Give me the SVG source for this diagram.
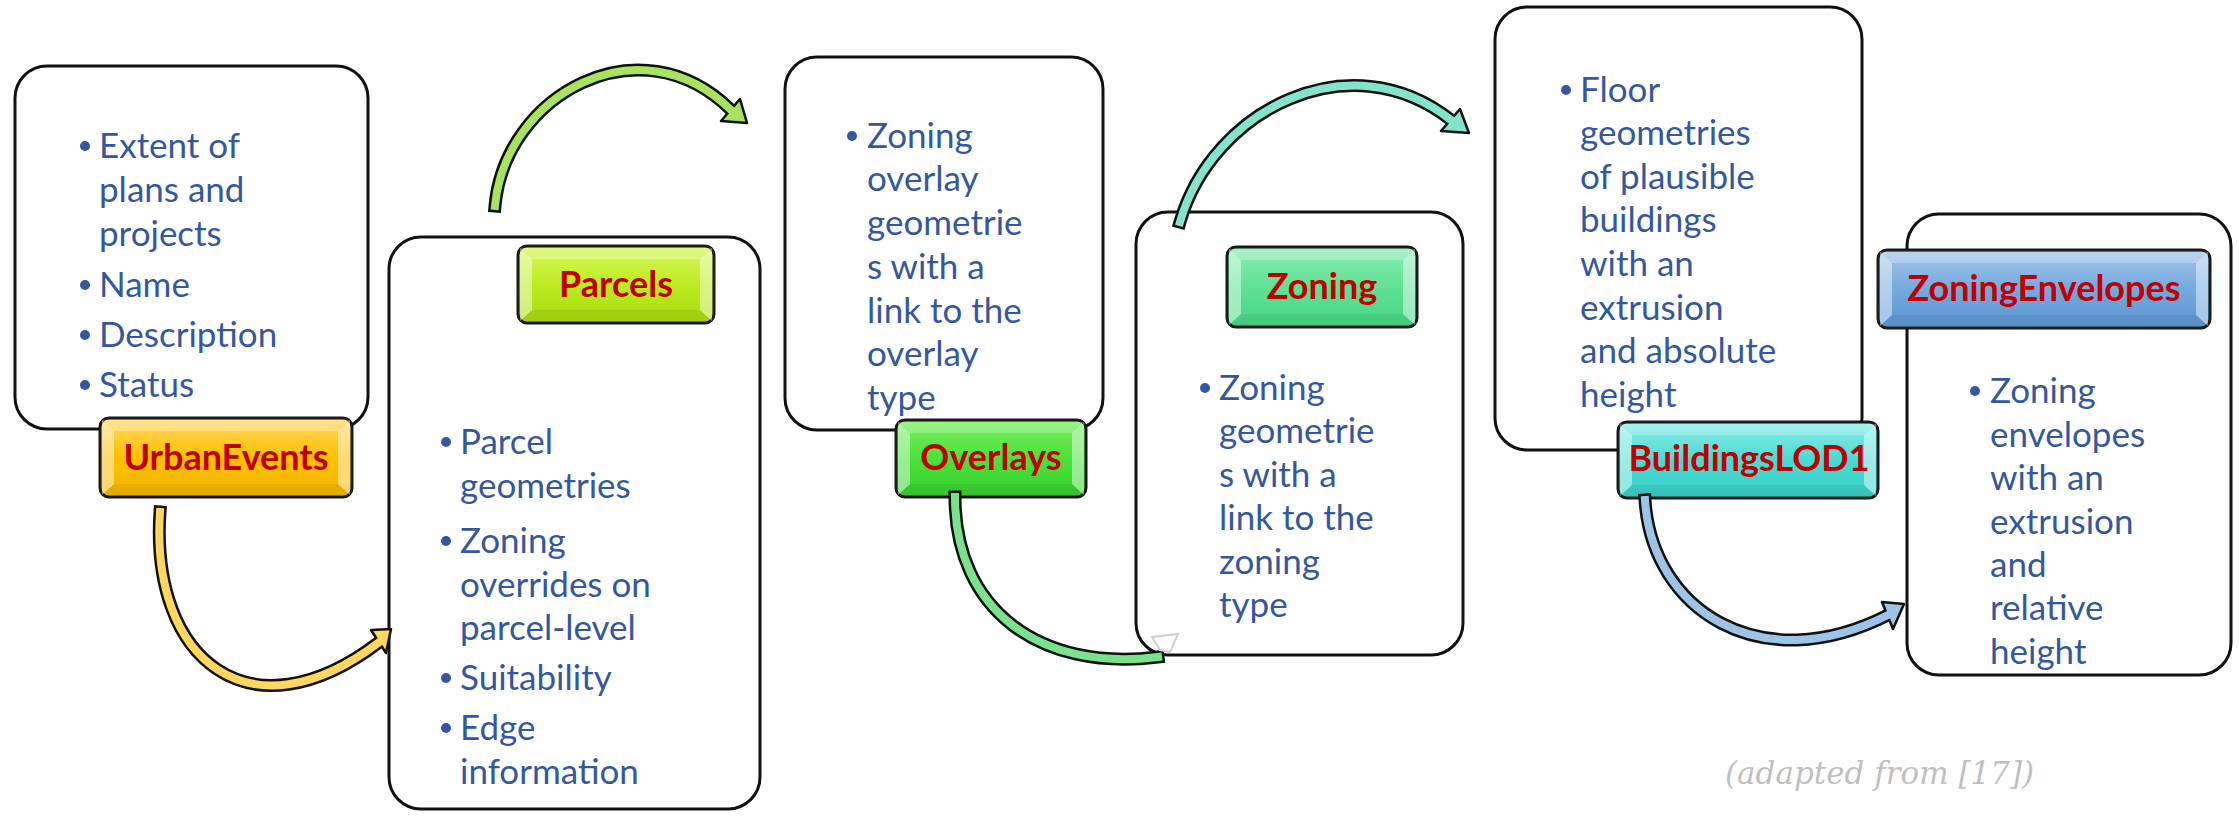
<svg xmlns="http://www.w3.org/2000/svg" width="2239" height="816" viewBox="0 0 2239 816">
<style>
.box{fill:#fff;stroke:#111;stroke-width:3}
.txt{font-family:Lato,"Liberation Sans",sans-serif;font-size:35px;fill:#34589E}
.bul{fill:#34589E}
.lab{stroke:#1a1a1a;stroke-width:3}
.lbl{font-family:Lato,"Liberation Sans",sans-serif;font-weight:700;font-size:36px;fill:#C00000;text-anchor:middle}
.hl{fill:#fff;opacity:.45}
.ht{fill:#fff;opacity:.25}
.hb{fill:#000;opacity:.06}
.sh{fill:none;stroke:#111;stroke-width:13;stroke-linecap:square}
.in{fill:none;stroke-width:8;stroke-linecap:square}
.hd{stroke:#111;stroke-width:2.5;stroke-linejoin:round}
.cap{font-family:"DejaVu Serif",serif;font-style:italic;font-size:31px;fill:#BFBFBF}
</style>
<defs>
<linearGradient id="gGold" x1="0" y1="0" x2="0" y2="1"><stop offset="0" stop-color="#FFD966"/><stop offset=".5" stop-color="#FFC000"/><stop offset="1" stop-color="#F2B600"/></linearGradient>
<linearGradient id="gLime" x1="0" y1="0" x2="0" y2="1"><stop offset="0" stop-color="#D8F760"/><stop offset=".5" stop-color="#BDEB22"/><stop offset="1" stop-color="#A9DA10"/></linearGradient>
<linearGradient id="gGreen" x1="0" y1="0" x2="0" y2="1"><stop offset="0" stop-color="#78F060"/><stop offset=".5" stop-color="#4CE03A"/><stop offset="1" stop-color="#38D030"/></linearGradient>
<linearGradient id="gMint" x1="0" y1="0" x2="0" y2="1"><stop offset="0" stop-color="#8EEDB4"/><stop offset=".5" stop-color="#5FE196"/><stop offset="1" stop-color="#48D685"/></linearGradient>
<linearGradient id="gTeal" x1="0" y1="0" x2="0" y2="1"><stop offset="0" stop-color="#8AEDE8"/><stop offset=".5" stop-color="#4ADBD3"/><stop offset="1" stop-color="#36CFC6"/></linearGradient>
<linearGradient id="gBlue" x1="0" y1="0" x2="0" y2="1"><stop offset="0" stop-color="#A6C8EC"/><stop offset=".5" stop-color="#74A9DE"/><stop offset="1" stop-color="#5B97D3"/></linearGradient>
</defs>

<g id="urbanevents">
<rect class="box" x="15" y="66" width="353" height="363" rx="32"/>
<g class="bul"><circle cx="85" cy="146" r="5"/><circle cx="85" cy="285" r="5"/><circle cx="85" cy="335" r="5"/><circle cx="85" cy="385" r="5"/></g>
<text class="txt"><tspan x="99" y="158">Extent of</tspan><tspan x="99" y="202">plans and</tspan><tspan x="99" y="246">projects</tspan><tspan x="99" y="297">Name</tspan><tspan x="99" y="347">Description</tspan><tspan x="99" y="397">Status</tspan></text>
<rect class="lab" x="100" y="418" width="252" height="79" rx="9" fill="url(#gGold)"/>
<polygon class="hl" points="102,420 114,431 114,484 102,495"/><polygon class="hl" points="350,420 338,431 338,484 350,495"/>
<polygon class="ht" points="102,420 350,420 338,431 114,431"/><polygon class="hb" points="102,495 350,495 338,484 114,484"/>
<text class="lbl" x="226" y="470">UrbanEvents</text>
</g>

<g id="parcels">
<rect class="box" x="389" y="237" width="371" height="572" rx="32"/>
<g class="bul"><circle cx="446" cy="442" r="5"/><circle cx="446" cy="541" r="5"/><circle cx="446" cy="678" r="5"/><circle cx="446" cy="728" r="5"/></g>
<text class="txt"><tspan x="460" y="454">Parcel</tspan><tspan x="460" y="498">geometries</tspan><tspan x="460" y="553">Zoning</tspan><tspan x="460" y="597">overrides on</tspan><tspan x="460" y="640">parcel-level</tspan><tspan x="460" y="690">Suitability</tspan><tspan x="460" y="740">Edge</tspan><tspan x="460" y="784">information</tspan></text>
<rect class="lab" x="518" y="246" width="196" height="77" rx="9" fill="url(#gLime)"/>
<polygon class="hl" points="520,248 532,259 532,310 520,321"/><polygon class="hl" points="712,248 700,259 700,310 712,321"/>
<polygon class="ht" points="520,248 712,248 700,259 532,259"/><polygon class="hb" points="520,321 712,321 700,310 532,310"/>
<text class="lbl" x="616" y="297">Parcels</text>
</g>

<g id="overlays">
<rect class="box" x="785" y="57" width="318" height="373" rx="32"/>
<circle class="bul" cx="852" cy="136" r="5"/>
<text class="txt"><tspan x="867" y="148">Zoning</tspan><tspan x="867" y="191">overlay</tspan><tspan x="867" y="235">geometrie</tspan><tspan x="867" y="279">s with a</tspan><tspan x="867" y="323">link to the</tspan><tspan x="867" y="366">overlay</tspan><tspan x="867" y="410">type</tspan></text>
<rect class="lab" x="896" y="420" width="190" height="77" rx="9" fill="url(#gGreen)"/>
<polygon class="hl" points="898,422 910,433 910,484 898,495"/><polygon class="hl" points="1084,422 1072,433 1072,484 1084,495"/>
<polygon class="ht" points="898,422 1084,422 1072,433 910,433"/><polygon class="hb" points="898,495 1084,495 1072,484 910,484"/>
<text class="lbl" x="991" y="470">Overlays</text>
</g>

<g id="zoning">
<rect class="box" x="1136" y="212" width="327" height="443" rx="32"/>
<circle class="bul" cx="1205" cy="388" r="5"/>
<text class="txt"><tspan x="1219" y="400">Zoning</tspan><tspan x="1219" y="443">geometrie</tspan><tspan x="1219" y="487">s with a</tspan><tspan x="1219" y="530">link to the</tspan><tspan x="1219" y="574">zoning</tspan><tspan x="1219" y="617">type</tspan></text>
<rect class="lab" x="1227" y="247" width="190" height="80" rx="9" fill="url(#gMint)"/>
<polygon class="hl" points="1229,249 1241,260 1241,314 1229,325"/><polygon class="hl" points="1415,249 1403,260 1403,314 1415,325"/>
<polygon class="ht" points="1229,249 1415,249 1403,260 1241,260"/><polygon class="hb" points="1229,325 1415,325 1403,314 1241,314"/>
<text class="lbl" x="1322" y="299">Zoning</text>
</g>

<g id="buildingslod1">
<rect class="box" x="1495" y="7" width="367" height="443" rx="32"/>
<circle class="bul" cx="1566" cy="90" r="5"/>
<text class="txt"><tspan x="1580" y="102">Floor</tspan><tspan x="1580" y="145">geometries</tspan><tspan x="1580" y="189">of plausible</tspan><tspan x="1580" y="232">buildings</tspan><tspan x="1580" y="276">with an</tspan><tspan x="1580" y="320">extrusion</tspan><tspan x="1580" y="363">and absolute</tspan><tspan x="1580" y="407">height</tspan></text>
<rect class="lab" x="1618" y="422" width="260" height="76" rx="9" fill="url(#gTeal)"/>
<polygon class="hl" points="1620,424 1632,435 1632,485 1620,496"/><polygon class="hl" points="1876,424 1864,435 1864,485 1876,496"/>
<polygon class="ht" points="1620,424 1876,424 1864,435 1632,435"/><polygon class="hb" points="1620,496 1876,496 1864,485 1632,485"/>
<text class="lbl" x="1749" y="471">BuildingsLOD1</text>
</g>

<g id="zoningenvelopes">
<rect class="box" x="1907" y="214" width="324" height="461" rx="32"/>
<circle class="bul" cx="1975" cy="391" r="5"/>
<text class="txt"><tspan x="1990" y="403">Zoning</tspan><tspan x="1990" y="447">envelopes</tspan><tspan x="1990" y="490">with an</tspan><tspan x="1990" y="534">extrusion</tspan><tspan x="1990" y="577">and</tspan><tspan x="1990" y="620">relative</tspan><tspan x="1990" y="664">height</tspan></text>
<rect class="lab" x="1878" y="250" width="332" height="78" rx="9" fill="url(#gBlue)"/>
<polygon class="hl" points="1880,252 1892,263 1892,315 1880,326"/><polygon class="hl" points="2208,252 2196,263 2196,315 2208,326"/>
<polygon class="ht" points="1880,252 2208,252 2196,263 1892,263"/><polygon class="hb" points="1880,326 2208,326 2196,315 1892,315"/>
<text class="lbl" x="2044" y="301">ZoningEnvelopes</text>
</g>

<g id="connectors">
<g id="c1">
<path class="sh" d="M160,512 C150,660 250,740 378,643"/>
<polygon class="hd" fill="#FFD75E" points="371,630 391,629 386,653"/>
<path class="in" stroke="#FFD75E" d="M160,512 C150,660 250,740 378,643"/>
</g>
<g id="c2">
<path class="sh" d="M495,206 C505,95 640,20 731,110"/>
<polygon class="hd" fill="#A8E25E" points="740,99 747,123 721,121"/>
<path class="in" stroke="#A8E25E" d="M495,206 C505,95 640,20 731,110"/>
</g>
<g id="c3">
<path class="sh" d="M955,497 C955,610 1040,672 1158,657"/>
<path class="in" stroke="#7AE28C" d="M955,497 C955,610 1040,672 1158,657"/>
<polygon fill="none" stroke="#cfcfcf" stroke-width="2" points="1152,637 1178,634 1170,652 1160,650"/>
</g>
<g id="c4">
<path class="sh" d="M1180,222 C1212,110 1350,40 1451,120"/>
<polygon class="hd" fill="#84E3CC" points="1460,109 1469,133 1441,131"/>
<path class="in" stroke="#84E3CC" d="M1180,222 C1212,110 1350,40 1451,120"/>
</g>
<g id="c5">
<path class="sh" d="M1645,500 C1652,610 1760,680 1888,615"/>
<polygon class="hd" fill="#9DC3E6" points="1882,602 1904,604 1893,629"/>
<path class="in" stroke="#9DC3E6" d="M1645,500 C1652,610 1760,680 1888,615"/>
</g>
</g>

<text class="cap" x="1725" y="784">(adapted from [17])</text>
</svg>
